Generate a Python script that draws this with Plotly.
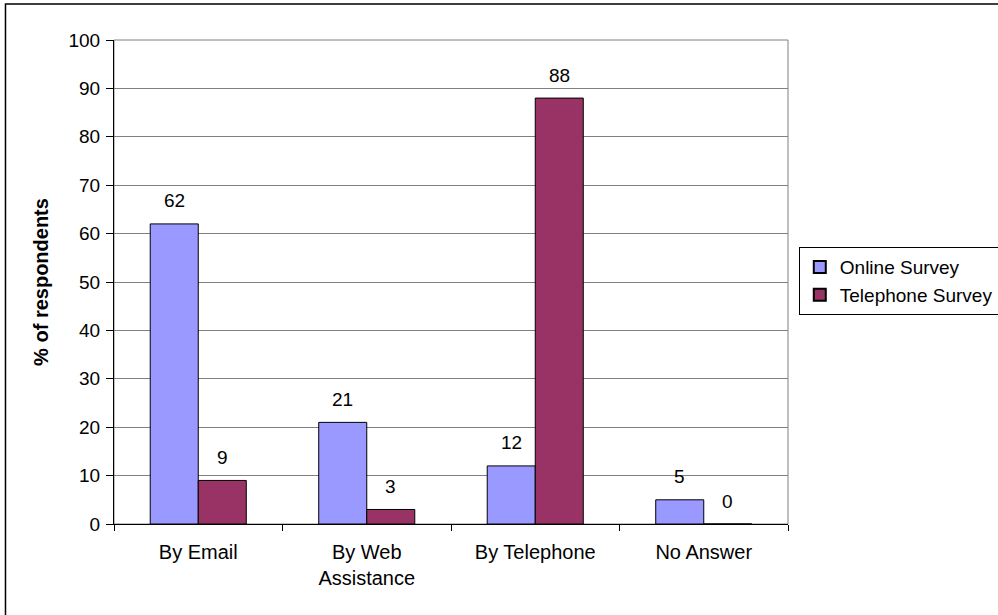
import plotly.graph_objects as go

categories = ["By Email", "By Web<br>Assistance", "By Telephone", "No Answer"]
online = [62, 21, 12, 5]
telephone = [9, 3, 88, 0]
series_names = ["Online Survey", "Telephone Survey"]
y_ticks = list(range(0, 101, 10))

FONT = "Liberation Sans, Arial, sans-serif"

fig = go.Figure()
fig.add_trace(go.Bar(x=categories, y=online, name=series_names[0],
                     marker=dict(color="#9999FF", line=dict(color="black", width=1))))
fig.add_trace(go.Bar(x=categories, y=telephone, name=series_names[1],
                     marker=dict(color="#993366", line=dict(color="black", width=1))))

annotations = []
for vals, shift in ((online, -24), (telephone, 24)):
    for c, v in zip(categories, vals):
        annotations.append(dict(x=c, y=v, text=str(v), showarrow=False, xshift=shift,
                                yshift=23, font=dict(family=FONT, size=19, color="black")))

fig.update_layout(
    width=998, height=615,
    margin=dict(l=114, r=210, t=40, b=91, autoexpand=False),
    paper_bgcolor="white", plot_bgcolor="white",
    barmode="group", bargap=0.43, bargroupgap=0,
    font=dict(family=FONT, size=19, color="black"),
    showlegend=True,
    legend=dict(x=1.016, y=0.572, xanchor="left", yanchor="top",
                bordercolor="black", borderwidth=1, bgcolor="white",
                font=dict(size=19), itemsizing="constant", tracegroupgap=0),
    annotations=annotations,
    shapes=[
        dict(type="rect", xref="paper", yref="paper", x0=0, x1=1, y0=0, y1=1,
             line=dict(color="#808080", width=1), layer="below"),
        dict(type="rect", xref="paper", yref="paper", x0=-0.161, x1=1.35, y0=-0.2, y1=1.0744,
             line=dict(color="black", width=1.5), layer="below"),
    ],
)
fig.update_yaxes(range=[0, 100], tickvals=y_ticks, gridcolor="#808080", gridwidth=1,
                 showline=True, linecolor="black", linewidth=1, ticks="outside",
                 ticklen=7, tickcolor="black", zeroline=False, tickfont=dict(size=19),
                 ticklabelstandoff=2,
                 title=dict(text="<b>% of respondents</b>", font=dict(size=20), standoff=14))
fig.update_xaxes(showline=True, linecolor="black", linewidth=1, ticks="outside",
                 tickson="boundaries", ticklen=6, tickcolor="black", showgrid=False,
                 tickfont=dict(size=20), ticklabelstandoff=10)

fig.write_html("out.html")
